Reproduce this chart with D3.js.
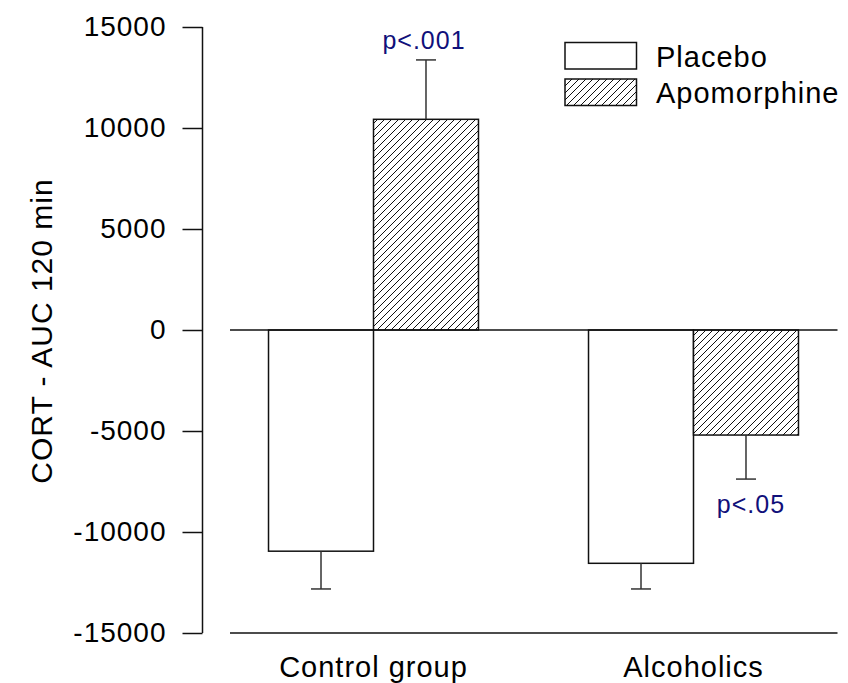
<!DOCTYPE html>
<html>
<head>
<meta charset="utf-8">
<script src="https://cdn.jsdelivr.net/npm/d3@7"></script>
<style>
  body { margin: 0; background: #fff; }
  text { font-family: "Liberation Sans", Arial, sans-serif; letter-spacing: 1px; }
</style>
</head>
<body>
<svg id="chart" width="848" height="683"></svg>
<script>
// groups and series
var groups = ['Control group', 'Alcoholics'];
var series = ['Placebo', 'Apomorphine'];

// mean values (CORT AUC), per group
var placeboValues = [-10950, -11550];
var apomorphineValues = [10430, -5200];

// error bar ends (mean + error, away from zero)
var placeboErrors = [-12820, -12820];
var apomorphineErrors = [13370, -7380];

// p-value labels for the apomorphine bars
var pLabels = ['p<.001', 'p<.05'];

var yTicks = [-15000, -10000, -5000, 0, 5000, 10000, 15000];

var svg = d3.select('#chart');

var rows = groups.map(function (g, i) {
  return [
    { group: g, key: 'Placebo', value: placeboValues[i], err: placeboErrors[i] },
    { group: g, key: 'Apomorphine', value: apomorphineValues[i], err: apomorphineErrors[i], p: pLabels[i] }
  ];
});
var bars = d3.merge(rows);

var yScale = d3.scaleLinear().domain([-15000, 15000]).range([633, 27]);
var x0 = d3.scaleBand().domain(groups).range([213.5, 853.5]);
var x1 = d3.scaleBand().domain(series).range([0, x0.bandwidth()]).paddingOuter(0.524);

// hatch pattern
var defs = svg.append('defs');
var pat = defs.append('pattern')
    .attr('id', 'hatch')
    .attr('patternUnits', 'userSpaceOnUse')
    .attr('width', 7)
    .attr('height', 7);
pat.append('rect').attr('width', 7).attr('height', 7).attr('fill', '#fff');
pat.append('path')
    .attr('d', 'M-1,1 L1,-1 M0,7 L7,0 M6,8 L8,6')
    .attr('stroke', '#111')
    .attr('stroke-width', 1);

var fillOf = function (key) { return key === 'Placebo' ? '#fff' : 'url(#hatch)'; };

// y axis (plain hyphen for negatives, as in the original)
var yAxis = d3.axisLeft(yScale).tickValues(yTicks).tickSize(20).tickPadding(16)
  .tickFormat(function (d) { return String(d); });
var yAxisG = svg.append('g')
    .attr('transform', 'translate(202.5,0)')
    .call(yAxis);
yAxisG.select('.domain').attr('d', 'M0,' + yScale(15000) + 'V' + yScale(-15000))
    .attr('stroke', '#111').attr('stroke-width', 1.5);
yAxisG.selectAll('.tick line').attr('stroke', '#111').attr('stroke-width', 1.5);
yAxisG.selectAll('.tick text')
    .attr('fill', '#000')
    .style('font-size', '28px');

svg.append('text')
    .attr('transform', 'translate(52,331) rotate(-90)')
    .attr('text-anchor', 'middle')
    .style('font-size', '30px')
    .text('CORT - AUC 120 min');

// bars
var barG = svg.append('g');
barG.selectAll('rect').data(bars).enter().append('rect')
    .attr('x', function (d) { return x0(d.group) + x1(d.key); })
    .attr('width', x1.bandwidth())
    .attr('y', function (d) { return yScale(Math.max(0, d.value)); })
    .attr('height', function (d) { return Math.abs(yScale(d.value) - yScale(0)); })
    .attr('fill', function (d) { return fillOf(d.key); })
    .attr('stroke', '#111')
    .attr('stroke-width', 1.5);

// error bars
var errG = svg.append('g').attr('stroke', '#333').attr('stroke-width', 1.5);
bars.forEach(function (d) {
  var cx = x0(d.group) + x1(d.key) + x1.bandwidth() / 2;
  errG.append('line')
      .attr('x1', cx).attr('x2', cx)
      .attr('y1', yScale(d.value)).attr('y2', yScale(d.err));
  errG.append('line')
      .attr('x1', cx - 10).attr('x2', cx + 10)
      .attr('y1', yScale(d.err)).attr('y2', yScale(d.err));
});

// zero line and bottom line
var xLeft = 230, xRight = 837.5;
svg.append('line')
    .attr('x1', xLeft).attr('x2', xRight)
    .attr('y1', yScale(0)).attr('y2', yScale(0))
    .attr('stroke', '#111').attr('stroke-width', 1.5);
svg.append('line')
    .attr('x1', xLeft).attr('x2', xRight)
    .attr('y1', yScale(-15000)).attr('y2', yScale(-15000))
    .attr('stroke', '#111').attr('stroke-width', 1.5);

// p labels
bars.filter(function (d) { return d.p; }).forEach(function (d) {
  var cx = x0(d.group) + x1(d.key) + x1.bandwidth() / 2;
  var up = d.value > 0;
  svg.append('text')
      .attr('x', cx + (up ? -2 : 5))
      .attr('y', up ? yScale(d.err) - 11 : yScale(d.err) + 34)
      .attr('text-anchor', 'middle')
      .attr('fill', '#10107a')
      .style('font-size', '25px')
      .text(d.p);
});

// category labels
svg.selectAll('.cat').data(groups).enter().append('text')
    .attr('class', 'cat')
    .attr('x', function (d) { return x0(d) + x0.bandwidth() / 2; })
    .attr('y', 677)
    .attr('text-anchor', 'middle')
    .style('font-size', '29px')
    .text(function (d) { return d; });

// legend
var legend = svg.append('g');
series.forEach(function (s, i) {
  var top = 42.5 + i * 36.5;
  legend.append('rect')
      .attr('x', 565).attr('y', top)
      .attr('width', 71.5).attr('height', 26.5)
      .attr('fill', fillOf(s))
      .attr('stroke', '#111').attr('stroke-width', 1.5);
  legend.append('text')
      .attr('x', 656)
      .attr('y', top + 24)
      .style('font-size', '29px')
      .text(s);
});
</script>
</body>
</html>
